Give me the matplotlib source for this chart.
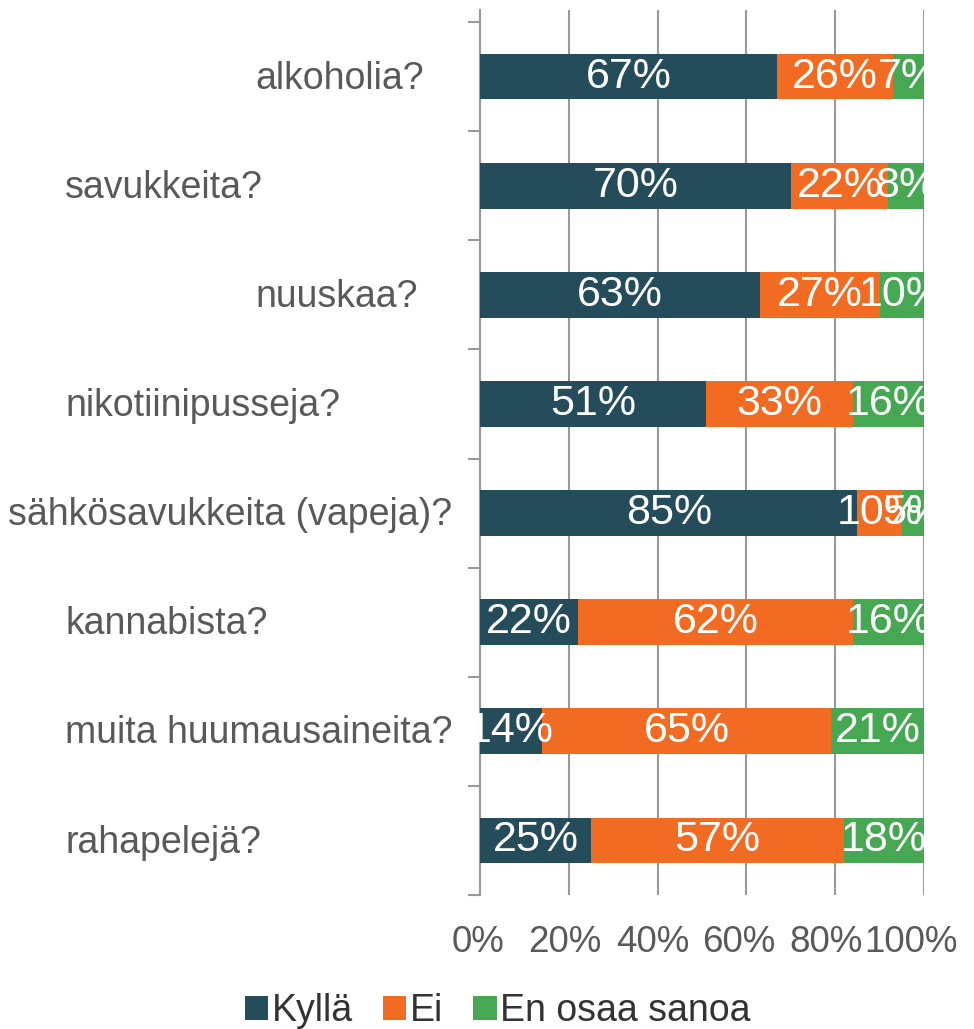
import matplotlib
matplotlib.use('Agg')
import matplotlib.pyplot as plt
import matplotlib.transforms as mtransforms
from matplotlib.patches import Patch

# Data
categories = ['alkoholia?', 'savukkeita?', 'nuuskaa?', 'nikotiinipusseja?',
              'sähkösavukkeita (vapeja)?', 'kannabista?',
              'muita huumausaineita?', 'rahapelejä?']
kylla = [67, 70, 63, 51, 85, 22, 14, 25]
ei = [26, 22, 27, 33, 10, 62, 65, 57]
en_osaa = [7, 8, 10, 16, 5, 16, 21, 18]
series_names = ['Kyllä', 'Ei', 'En osaa sanoa']
xticks = [0, 20, 40, 60, 80, 100]

# Style
colors = ['#244C5A', '#F26B22', '#46A852']
label_x_px = [255, 65, 255, 65, 8, 65, 65, 65]   # Excel put labels oddly
tick_shift_px = [-2, -4, -5, -8, -9, -13]        # Excel squeezed the tick labels
W, H = 974, 1029
plt.rcParams['font.family'] = ['Liberation Sans', 'DejaVu Sans']

fig = plt.figure(figsize=(W / 100, H / 100), dpi=100)
ax = fig.add_axes([480 / W, (H - 895) / H, 444 / W, (895 - 10) / H])

y = list(range(len(categories)))
left = [0] * len(categories)
for vals, col, name in zip([kylla, ei, en_osaa], colors, series_names):
    bars = ax.barh(y, vals, left=left, height=0.42, color=col, label=name, zorder=3)
    ax.bar_label(bars, labels=['%d%%' % v for v in vals], label_type='center',
                 color='white', fontsize=31, zorder=4)
    left = [a + b for a, b in zip(left, vals)]

ax.set_xlim(0, 100)
ax.set_ylim(len(categories) - 0.5, -0.5 - 0.11)
ax.set_xticks(xticks)
ax.set_xticklabels([])
ax.tick_params(axis='x', length=0)
# x tick labels drawn by hand so they can be nudged like in the original
xtrans = mtransforms.blended_transform_factory(ax.transData, fig.transFigure)
for t, dx in zip(xticks, tick_shift_px):
    off = mtransforms.ScaledTranslation(dx / 100, 0, fig.dpi_scale_trans)
    fig.text(t, (H - 942) / H, '%d%%' % t, transform=xtrans + off,
             ha='center', va='center', fontsize=26.5, color='#595959')

ax.set_yticks([i - 0.5 for i in range(len(categories) + 1)])
ax.set_yticklabels([])
ax.tick_params(axis='y', length=9, width=1.5, color='#999999', direction='out')
ax.grid(axis='x', color='#999999', linewidth=1.5, zorder=0)
for side in ['top', 'right', 'bottom']:
    ax.spines[side].set_visible(False)
ax.spines['left'].set_color('#999999')
ax.spines['left'].set_linewidth(1.5)

# Category labels
trans = mtransforms.blended_transform_factory(fig.transFigure, ax.transData)
for i, cat in enumerate(categories):
    fig.text(label_x_px[i] / W, i + 0.02, cat, transform=trans, ha='left', va='center',
             fontsize=27, color='#595959')

handles = [Patch(facecolor=c, label=n) for c, n in zip(colors, series_names)]
fig.legend(handles=handles, loc='center', bbox_to_anchor=(498 / W, 18 / H),
           ncol=3, frameon=False, fontsize=27, handlelength=0.62, handleheight=0.62,
           handletextpad=0.1, columnspacing=0.8, labelcolor='#333333',
           borderaxespad=0, borderpad=0)

fig.savefig('out.png', dpi=100)
